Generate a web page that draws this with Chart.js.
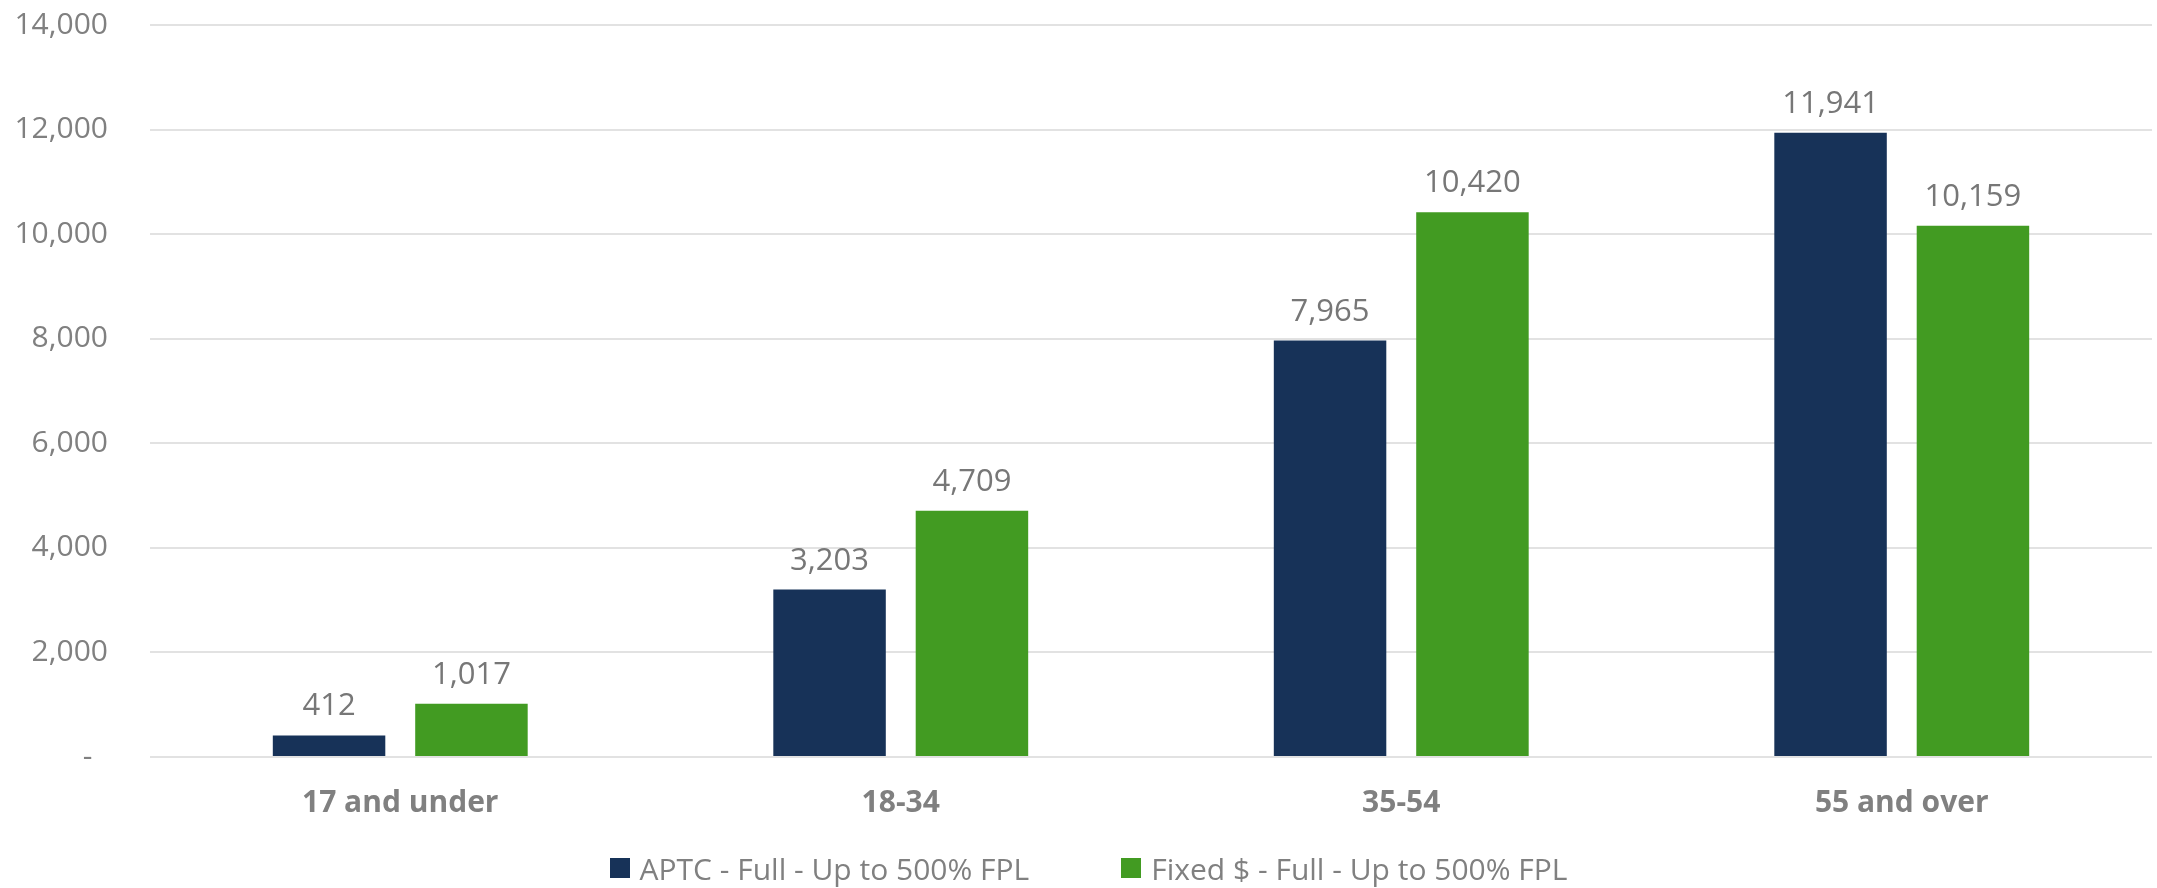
<!DOCTYPE html>
<html>
<head>
<meta charset="utf-8">
<script src="https://cdn.jsdelivr.net/npm/chart.js@4/dist/chart.umd.min.js"></script>
<style>
  html, body { margin: 0; padding: 0; background: #ffffff; }
  #wrap { position: relative; width: 2157px; height: 888px; }
  #c { display: block; }
  #legend {
    position: absolute; left: 0; width: 2157px; top: 850px; height: 36px;
    display: flex; justify-content: center; align-items: center;
    padding-left: 20px; box-sizing: border-box;
    font-family: "Open Sans", sans-serif; font-size: 30px; color: #808080;
  }
  #legend .item { display: flex; align-items: center; margin: 0 46px; white-space: nowrap; }
  #legend .box { width: 20px; height: 20px; margin-right: 10px; }
</style>
</head>
<body>
<div id="wrap">
  <canvas id="c" width="2157" height="888"></canvas>
  <div id="legend"></div>
</div>
<script>
const categories = ["17 and under", "18-34", "35-54", "55 and over"];
const seriesNames = ["APTC - Full - Up to 500% FPL", "Fixed $ - Full - Up to 500% FPL"];
const aptcValues = [412, 3203, 7965, 11941];
const fixedValues = [1017, 4709, 10420, 10159];
const yTicks = [0, 2000, 4000, 6000, 8000, 10000, 12000, 14000];

const NAVY = "#173258";
const GREEN = "#429b22";
const FONT = "'Open Sans', sans-serif";

function fmt(v) { return v.toLocaleString("en-US"); }

const valueLabels = {
  id: "valueLabels",
  afterDatasetsDraw(chart) {
    const ctx = chart.ctx;
    ctx.save();
    ctx.font = "31px " + FONT;
    ctx.fillStyle = "#777777";
    ctx.textAlign = "center";
    ctx.textBaseline = "alphabetic";
    chart.data.datasets.forEach((ds, di) => {
      const meta = chart.getDatasetMeta(di);
      meta.data.forEach((el, i) => {
        ctx.fillText(fmt(ds.data[i]), el.x, el.y - 20);
      });
    });
    ctx.restore();
  }
};

const htmlLegend = {
  id: "htmlLegend",
  afterUpdate(chart) {
    const box = document.getElementById("legend");
    box.innerHTML = "";
    chart.data.datasets.forEach(ds => {
      const item = document.createElement("div");
      item.className = "item";
      const sw = document.createElement("span");
      sw.className = "box";
      sw.style.background = ds.backgroundColor;
      const tx = document.createElement("span");
      tx.textContent = ds.label;
      item.appendChild(sw);
      item.appendChild(tx);
      box.appendChild(item);
    });
  }
};

new Chart(document.getElementById("c"), {
  type: "bar",
  data: {
    labels: categories,
    datasets: [
      { label: seriesNames[0], data: aptcValues, backgroundColor: NAVY,
        categoryPercentage: 0.569, barPercentage: 0.79 },
      { label: seriesNames[1], data: fixedValues, backgroundColor: GREEN,
        categoryPercentage: 0.569, barPercentage: 0.79 }
    ]
  },
  options: {
    responsive: false,
    animation: false,
    layout: { padding: { top: 25, right: 5, bottom: 67, left: 0 } },
    plugins: {
      legend: { display: false },
      tooltip: { enabled: false }
    },
    scales: {
      x: {
        grid: { display: false, drawTicks: false },
        border: { display: false },
        ticks: {
          padding: 28,
          color: "#808080",
          font: { family: FONT, size: 30, weight: "bold" }
        },
        afterFit(s) { s.height = 64; }
      },
      y: {
        min: 0,
        max: 14000,
        afterBuildTicks(s) { s.ticks = yTicks.map(v => ({ value: v })); },
        grid: { color: "#e2e2e2", lineWidth: 2, drawTicks: false },
        border: { display: false },
        ticks: {
          padding: 42,
          color: "#808080",
          font: { family: FONT, size: 30 },
          callback(v) { return v === 0 ? "-  " : fmt(v); }
        },
        afterFit(s) { s.width = 150; s.paddingTop = 0; s.paddingBottom = 0; }
      }
    }
  },
  plugins: [valueLabels, htmlLegend]
});
</script>
</body>
</html>
